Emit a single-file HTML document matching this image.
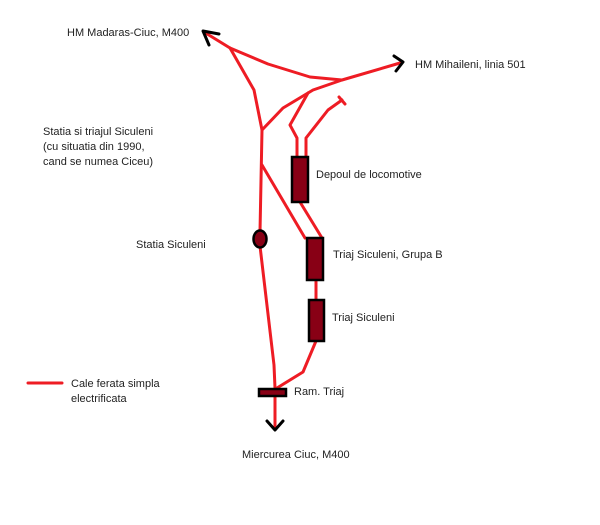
<!DOCTYPE html>
<html><head><style>body{margin:0;background:#fff}svg{display:block}text{font-family:"Liberation Sans",sans-serif;font-size:11px;fill:#222}</style></head><body>
<svg width="600" height="525" viewBox="0 0 600 525">
<g fill="none" stroke="#ee1c24" stroke-width="3" stroke-linejoin="round" stroke-linecap="round">
<polyline points="204,32 230,48 268,64 310,77 342,80 400,63"/>
<polyline points="230,48 254,90 262,130 260,232"/>
<polyline points="262,130 283,108 313,90 342,80"/>
<polyline points="308,93 290,125 297,138 297,157"/>
<polyline points="342,100 328,110 306,138 306,157"/>
<line x1="339" y1="97" x2="345" y2="104"/>
<polyline points="260,246 274,365 275,388"/>
<polyline points="262,165 305,238"/>
<polyline points="300,202 322,238"/>
<line x1="316" y1="280" x2="316" y2="300"/>
<polyline points="316,341 303,372 277,388"/>
<line x1="275" y1="397" x2="275" y2="428"/>
<line x1="28" y1="383" x2="62" y2="383"/>
</g>
<g fill="none" stroke="#000" stroke-width="3" stroke-linecap="round" stroke-linejoin="round">
<polyline points="219,34 203,31 209,45"/>
<polyline points="394,56 403,62 396,71"/>
<polyline points="267,421 275,430 283,421"/>
</g>
<g fill="#880015" stroke="#000" stroke-width="2.5">
<rect x="292" y="157" width="16" height="45"/>
<rect x="307" y="238" width="16" height="42"/>
<rect x="309" y="300" width="15" height="41"/>
<rect x="259" y="389" width="27" height="7"/>
<ellipse cx="260" cy="239" rx="6.5" ry="8.5"/>
</g>
<text x="67" y="36">HM Madaras-Ciuc, M400</text>
<text x="415" y="68">HM Mihaileni, linia 501</text>
<text x="43" y="135">Statia si triajul Siculeni</text>
<text x="43" y="150">(cu situatia din 1990,</text>
<text x="43" y="165">cand se numea Ciceu)</text>
<text x="316" y="178">Depoul de locomotive</text>
<text x="136" y="248">Statia Siculeni</text>
<text x="333" y="258">Triaj Siculeni, Grupa B</text>
<text x="332" y="321">Triaj Siculeni</text>
<text x="294" y="395">Ram. Triaj</text>
<text x="71" y="387">Cale ferata simpla</text>
<text x="71" y="402">electrificata</text>
<text x="242" y="458">Miercurea Ciuc, M400</text>
</svg>
</body></html>
